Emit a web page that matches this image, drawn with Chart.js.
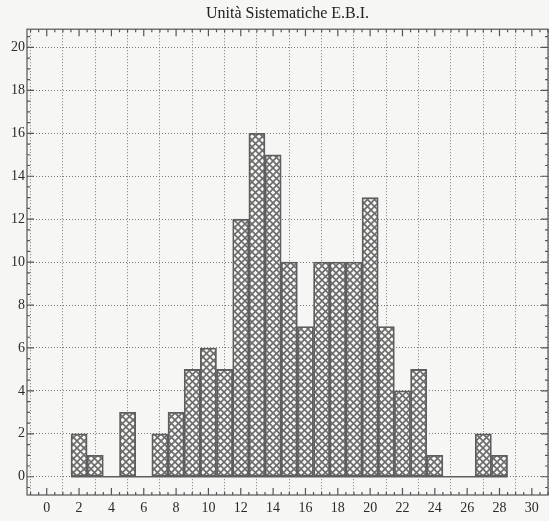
<!DOCTYPE html>
<html>
<head>
<meta charset="utf-8">
<script src="https://cdn.jsdelivr.net/npm/chart.js@4.4.1/dist/chart.umd.min.js"></script>
<style>
  body{margin:0;background:#f6f6f4;}
  #wrap{width:549px;height:521px;}
</style>
</head>
<body>
<div id="wrap"><canvas id="ebiChart" width="549" height="521"></canvas></div>
<script>
// histogram bins (centre of each class) and their counts
const binCenters = [2, 3, 5, 7, 8, 9, 10, 11, 12, 13, 14, 15, 16, 17, 18, 19, 20, 21, 22, 23, 24, 27, 28];
const counts     = [2, 1, 3, 2, 3, 5, 6, 5, 12, 16, 15, 10, 7, 10, 10, 10, 13, 7, 4, 5, 1, 2, 1];
const binWidth = 1;
const xTickLabels = [0, 2, 4, 6, 8, 10, 12, 14, 16, 18, 20, 22, 24, 26, 28, 30];
const yTickLabels = [0, 2, 4, 6, 8, 10, 12, 14, 16, 18, 20];
const titleText = 'Unità Sistematiche E.B.I.';

// cross hatch fill like the printed figure
function hatch(){
  const n = 7;
  const c = document.createElement('canvas');
  c.width = n; c.height = n;
  const g = c.getContext('2d');
  g.fillStyle = '#f6f6f4';
  g.fillRect(0, 0, n, n);
  g.strokeStyle = '#6c6c6c';
  g.lineWidth = 1.6;
  g.beginPath();
  g.moveTo(-1, -1); g.lineTo(n + 1, n + 1);
  g.moveTo(n + 1, -1); g.lineTo(-1, n + 1);
  g.stroke();
  return g.createPattern(c, 'repeat');
}

// frame on 4 sides with inward major/minor ticks
const frameTicks = {
  id: 'frameTicks',
  afterDraw(chart){
    const {ctx, chartArea: a, scales: {x, y}} = chart;
    const minorStep = 0.5;
    ctx.save();
    ctx.strokeStyle = '#555';
    ctx.lineWidth = 1.2;
    ctx.strokeRect(a.left, a.top, a.right - a.left, a.bottom - a.top);
    ctx.beginPath();
    for (let v = Math.ceil(x.min / minorStep) * minorStep; v <= x.max; v += minorStep){
      const px = x.getPixelForValue(v);
      const len = Math.abs(v % 2) === 0 ? 7 : 3;
      ctx.moveTo(px, a.bottom); ctx.lineTo(px, a.bottom - len);
      ctx.moveTo(px, a.top); ctx.lineTo(px, a.top + len);
    }
    for (let v = Math.ceil(y.min / minorStep) * minorStep; v <= y.max; v += minorStep){
      const py = y.getPixelForValue(v);
      const len = Math.abs(v % 2) === 0 ? 7 : 3;
      ctx.moveTo(a.left, py); ctx.lineTo(a.left + len, py);
      ctx.moveTo(a.right, py); ctx.lineTo(a.right - len, py);
    }
    ctx.stroke();
    ctx.restore();
  }
};

const serif = {family: '"Liberation Serif", "DejaVu Serif", serif', size: 14};

new Chart(document.getElementById('ebiChart'), {
  type: 'bar',
  data: {
    datasets: [{
      type: 'line',
      data: [
        {x: binCenters[0] - binWidth / 2, y: 0},
        {x: binCenters[binCenters.length - 1] + binWidth / 2, y: 0}
      ],
      borderColor: '#5e5e5e',
      borderWidth: 1.6,
      pointRadius: 0,
      order: 2
    }, {
      data: binCenters.map((c, i) => ({x: c, y: counts[i]})),
      backgroundColor: hatch(),
      borderColor: '#5e5e5e',
      borderWidth: 1.8,
      borderSkipped: false,
      barPercentage: 1,
      categoryPercentage: 1,
      order: 1
    }]
  },
  options: {
    responsive: false,
    animation: false,
    layout: {padding: {left: 0, right: 1, top: 0, bottom: 0}},
    plugins: {
      legend: {display: false},
      tooltip: {enabled: false},
      title: {
        display: true,
        fullSize: false,
        text: titleText,
        color: '#222',
        font: {family: serif.family, size: 16, weight: 'normal'},
        padding: {top: 4, bottom: 6}
      }
    },
    scales: {
      x: {
        type: 'linear',
        offset: false,
        min: -1.22,
        max: 31,
        afterBuildTicks: s => { s.ticks = xTickLabels.map(v => ({value: v})); },
        afterFit: s => { s.height = 26; },
        ticks: {color: '#2a2a2a', font: serif, padding: 5, maxRotation: 0, autoSkip: false},
        grid: {color: '#7a7a7a', lineWidth: 1, drawTicks: false},
        border: {display: false, dash: [1, 2]}
      },
      y: {
        min: -0.85,
        max: 20.85,
        afterBuildTicks: s => { s.ticks = yTickLabels.map(v => ({value: v})); },
        afterFit: s => { s.width = 27; },
        ticks: {color: '#2a2a2a', font: serif, padding: 2, autoSkip: false},
        grid: {color: '#7a7a7a', lineWidth: 1, drawTicks: false},
        border: {display: false, dash: [1, 2]}
      }
    }
  },
  plugins: [frameTicks]
});
</script>
</body>
</html>
